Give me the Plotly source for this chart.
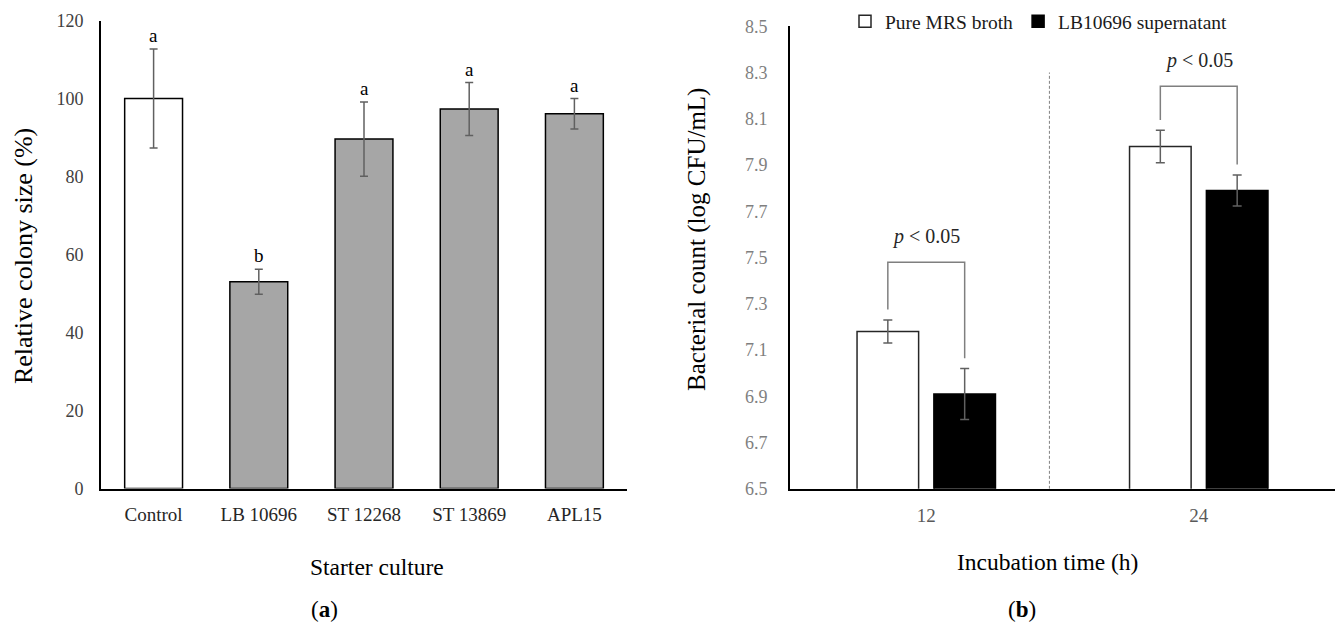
import plotly.graph_objects as go

# ---------------- data ----------------
# panel (a)
cultures = ["Control", "LB 10696", "ST 12268", "ST 13869", "APL15"]
colony_size = [100.0, 53.0, 89.6, 97.3, 96.1]
colony_err = [12.7, 3.2, 9.5, 6.8, 3.9]
colony_letters = ["a", "b", "a", "a", "a"]
yticks_a = [0, 20, 40, 60, 80, 100, 120]

# panel (b)
times = ["12", "24"]
mrs_broth = [7.18, 7.98]
mrs_err = [0.05, 0.07]
supernatant = [6.91, 7.79]
supernatant_err = [0.11, 0.067]
bracket_top = [7.48, 8.24]
pvalue_text = ["<i>p</i> < 0.05", "<i>p</i> < 0.05"]
yticks_b = [6.5, 6.7, 6.9, 7.1, 7.3, 7.5, 7.7, 7.9, 8.1, 8.3, 8.5]

# ---------------- styling ----------------
W, H = 1338, 626
FONT = "Liberation Serif, Times New Roman, serif"
GRAY_FILL = "#A6A6A6"
ERR_COL = "#606060"

# vertical calibration of the capture (target pixel -> page pixel)
Y_OFF, Y_SCALE = 10.5, 0.966


def px_x(p):
    return p / W


def px_y(p):
    page = (p - Y_OFF) / Y_SCALE
    return 1 - page / H


fig = go.Figure()

# panel (a) bars
fig.add_trace(go.Bar(
    x=cultures, y=colony_size,
    width=0.55,
    marker=dict(color=["white"] + [GRAY_FILL] * (len(cultures) - 1),
                line=dict(color="black", width=1.5)),
    error_y=dict(type="data", array=colony_err, visible=True,
                 color=ERR_COL, thickness=1.5, width=4),
    xaxis="x", yaxis="y", showlegend=False, name="Relative colony size",
))

# panel (b) bars
BW = 0.226
OFF_W, OFF_B = -0.254, 0.028
fig.add_trace(go.Bar(
    x=times, y=mrs_broth, width=BW, offset=OFF_W,
    marker=dict(color="white", line=dict(color="#262626", width=1.5)),
    error_y=dict(type="data", array=mrs_err, visible=True,
                 color=ERR_COL, thickness=1.5, width=4.5),
    xaxis="x2", yaxis="y2", name="Pure MRS broth",
))
fig.add_trace(go.Bar(
    x=times, y=supernatant, width=BW, offset=OFF_B,
    marker=dict(color="black", line=dict(color="black", width=1.5)),
    error_y=dict(type="data", array=supernatant_err, visible=True,
                 color=ERR_COL, thickness=1.5, width=4.5),
    xaxis="x2", yaxis="y2", name="LB10696 supernatant",
))

annotations = []
shapes = []

# significance letters above panel (a) bars
for c, v, e, t in zip(cultures, colony_size, colony_err, colony_letters):
    annotations.append(dict(x=c, y=v + e, xref="x", yref="y", text=t,
                            showarrow=False, xanchor="center", yanchor="bottom",
                            yshift=1,
                            font=dict(family=FONT, size=19, color="black")))

# comparison brackets in panel (b)
GAP = 0.045
cw = OFF_W + BW / 2
cb = OFF_B + BW / 2
BR_COL = "#7f7f7f"
for i, t in enumerate(times):
    xl = i + cw
    xr = i + cb
    top = bracket_top[i]
    lb = mrs_broth[i] + mrs_err[i] + GAP
    rb = supernatant[i] + supernatant_err[i] + GAP
    shapes.append(dict(type="path", xref="x2", yref="y2",
                       path=f"M {xl},{lb} L {xl},{top} L {xr},{top} L {xr},{rb}",
                       line=dict(color=BR_COL, width=1.5)))
    annotations.append(dict(x=(xl + xr) / 2, y=top, xref="x2", yref="y2",
                            text=pvalue_text[i], showarrow=False,
                            xanchor="center", yanchor="bottom", yshift=12,
                            font=dict(family=FONT, size=20, color="#262626")))

# dashed separator between the two incubation times
shapes.append(dict(type="line", xref="x2", yref="y2", x0=0.452, x1=0.452,
                   y0=6.5, y1=8.3,
                   line=dict(color="#808080", width=1, dash="3px,2px")))


def label(x, y, text, size, angle=0):
    return dict(x=px_x(x), y=px_y(y), xref="paper", yref="paper", text=text,
                showarrow=False, xanchor="center", yanchor="middle",
                textangle=angle,
                font=dict(family=FONT, size=size, color="black"))


annotations += [
    label(377, 566, "Starter culture", 23.5),
    label(23, 256, "Relative colony size (%)", 26, -90),
    label(1047, 561, "Incubation time (h)", 23.5),
    label(697, 240, "Bacterial count (log CFU/mL)", 25, -90),
    label(324, 609, "(<b>a</b>)", 23),
    label(1022, 609, "(<b>b</b>)", 23),
]

axis_common = dict(showgrid=False, zeroline=False, ticks="",
                   showline=True, linecolor="black", linewidth=2)

fig.update_layout(
    width=W, height=H,
    margin=dict(l=0, r=0, t=0, b=0),
    paper_bgcolor="white", plot_bgcolor="white",
    barmode="overlay",
    font=dict(family=FONT, color="black"),
    xaxis=dict(domain=[px_x(101), px_x(627)], type="category",
               tickfont=dict(family=FONT, size=19, color="#262626"),
               ticklabelstandoff=8, **axis_common),
    yaxis=dict(domain=[px_y(488), px_y(21)], range=[0, 120],
               tickvals=yticks_a,
               tickfont=dict(family=FONT, size=18, color="#404040"),
               ticklabelstandoff=12, **axis_common),
    xaxis2=dict(domain=[px_x(790), px_x(1335)], type="category",
                anchor="y2", range=[-0.5, 1.5],
                tickfont=dict(family=FONT, size=19, color="#595959"),
                ticklabelstandoff=8, **axis_common),
    yaxis2=dict(domain=[px_y(488.3), px_y(26.7)], range=[6.5, 8.5],
                anchor="x2", tickvals=yticks_b, tickformat=".1f",
                tickfont=dict(family=FONT, size=18, color="#7f7f7f"),
                ticklabelstandoff=17, **axis_common),
    legend=dict(orientation="h", x=px_x(845), xanchor="left",
                y=px_y(22), yanchor="middle",
                font=dict(family=FONT, size=19.5, color="#1a1a1a"),
                bgcolor="rgba(0,0,0,0)", itemwidth=30),
    annotations=annotations,
    shapes=shapes,
)

post = (
    "document.documentElement.style.margin='0';"
    "document.documentElement.style.padding='0';"
    "document.body.style.margin='0';"
    "document.body.style.padding='0';"
)
fig.write_html("out.html", post_script=post, config={"displayModeBar": False})
